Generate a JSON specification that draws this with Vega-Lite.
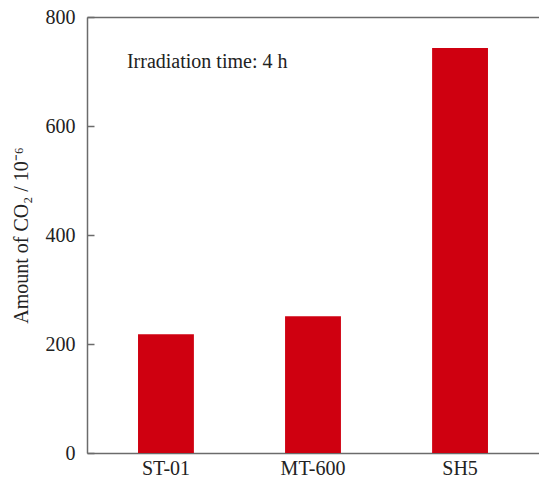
{
  "$schema": "https://vega.github.io/schema/vega-lite/v6.json",
  "autosize": "none",
  "width": 452,
  "height": 436,
  "padding": {"left": 87, "top": 17, "right": 0, "bottom": 28},
  "background": "white",
  "config": {
    "view": {"stroke": null},
    "font": "Liberation Serif",
    "axis": {"grid": false, "domainColor": "#6b6b6b", "domainWidth": 1.5, "tickColor": "#6b6b6b", "tickWidth": 1.5, "labelFont": "Liberation Serif", "labelFontSize": 20, "labelColor": "#222", "titleFont": "Liberation Serif", "titleFontWeight": "normal", "titleColor": "#222"}
  },
  "data": {"values": [
    {"sample": "ST-01", "co2": 218},
    {"sample": "MT-600", "co2": 251},
    {"sample": "SH5", "co2": 743}
  ]},
  "layer": [
    {
      "mark": {"type": "bar", "color": "#cf0010"},
      "encoding": {
        "x": {"field": "sample", "type": "nominal", "sort": ["ST-01", "MT-600", "SH5"],
          "scale": {"domain": ["ST-01", "MT-600", "SH5"], "paddingInner": 0.62, "paddingOuter": 0.347},
          "axis": {"title": null, "labelAngle": 0, "ticks": false, "labelPadding": 5, "domain": true}},
        "y": {"field": "co2", "type": "quantitative",
          "scale": {"domain": [0, 800], "nice": false},
          "axis": {"title": "Amount of CO₂ / 10⁻⁶", "titleFontSize": 20, "values": [0, 200, 400, 600, 800], "tickSize": -7, "labelPadding": 19, "titlePadding": 14}}
      }
    },
    {
      "data": {"values": [{"label": "Irradiation time: 4 h", "sample": "ST-01", "co2": 717}]},
      "mark": {"type": "text", "align": "left", "baseline": "middle", "dx": -39, "fontSize": 20, "font": "Liberation Serif", "color": "#222"},
      "encoding": {
        "x": {"field": "sample", "type": "nominal", "sort": ["ST-01", "MT-600", "SH5"],
          "axis": {"orient": "top", "title": null, "labels": false, "ticks": false, "domain": true}},
        "y": {"field": "co2", "type": "quantitative",
          "axis": {"title": "Amount of CO₂ / 10⁻⁶", "titleFontSize": 20, "values": [0, 200, 400, 600, 800], "tickSize": -7, "labelPadding": 19, "titlePadding": 14}},
        "text": {"field": "label"}
      }
    }
  ],
  "resolve": {"axis": {"x": "independent"}}
}
